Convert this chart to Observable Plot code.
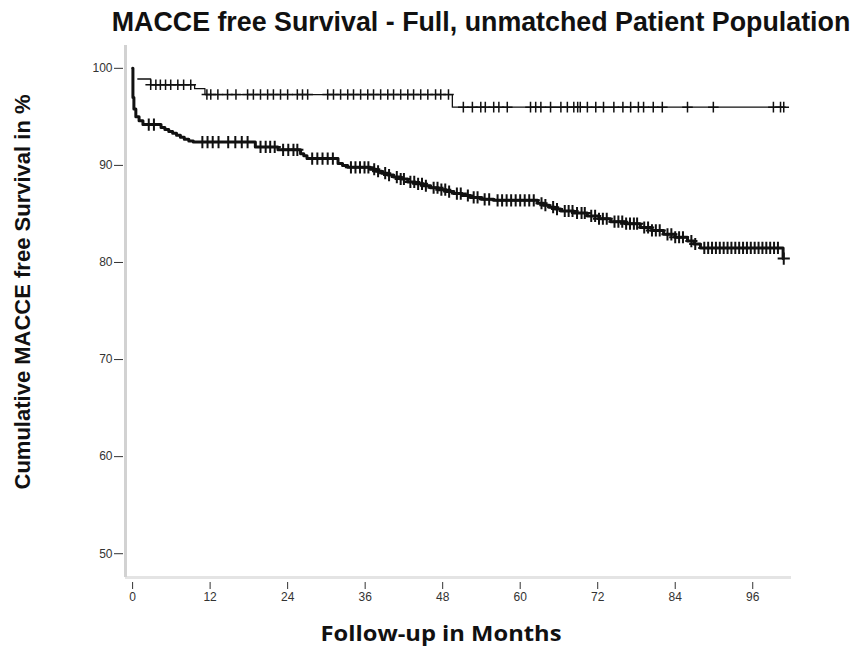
<!DOCTYPE html>
<html><head><meta charset="utf-8">
<script src="https://cdn.jsdelivr.net/npm/d3@7"></script>
<script src="https://cdn.jsdelivr.net/npm/@observablehq/plot@0.6"></script>
<style>body{margin:0;background:#fff} #chart{width:857px;height:646px}</style>
</head><body><div id="chart"></div>
<script>
const titleText = "MACCE free Survival - Full, unmatched Patient Population";
const xLabelText = "Follow-up in Months";
const yLabelText = "Cumulative MACCE free Survival in %";
const xTicks = [0, 12, 24, 36, 48, 60, 72, 84, 96];
const yTicks = [50, 60, 70, 80, 90, 100];
const xDomain = [-1.1, 102];
const yDomain = [47.55, 102.35];

// Upper group (step function)
const upperTimes  = [0.8, 2.8, 9.6, 11.2, 49.5];
const upperValues = [98.9, 98.3, 97.9, 97.3, 96.0];
const upperEnd = 100.8;
const upperCensor = [2.8, 3.6, 4.3, 5.1, 5.9, 7.0, 7.9, 9.0,
  11.5, 12.1, 13.2, 14.7, 16.0, 17.8, 18.7, 19.8, 20.9, 21.8, 22.9, 24.0, 25.5, 26.3, 27.1,
  30.2, 31.1, 32.2, 33.3, 34.2, 35.3, 36.4, 37.3, 38.4, 39.5, 40.4, 41.5, 42.6, 43.5, 44.6,
  45.7, 46.9, 47.7, 48.9,
  51.2, 52.6, 53.9, 54.6, 55.9, 56.7, 58.0, 61.6, 62.4, 63.2, 64.7, 66.3, 67.3, 68.3, 68.9,
  69.3, 70.4, 71.7, 72.9, 74.5, 75.9, 77.1, 78.3, 79.1, 80.6, 82.0, 85.9, 89.9, 99.2, 100.3, 100.8];

// Lower group (step function)
const lowerTimes  = [0, 0.05, 0.2, 0.5, 1.0, 1.6, 4.4, 5.0, 5.6, 6.2, 6.8, 7.4, 8.0, 8.7, 9.4,
  19.0, 22.5, 26.0, 26.5, 27.0, 31.8, 32.5, 33.3,
  36.8, 37.7, 38.6, 39.5, 40.4, 41.5, 42.6, 43.8, 45.0, 46.1, 47.3, 48.5, 49.7, 51.0, 52.3, 54.0, 55.9,
  62.7, 63.6, 64.5, 65.4, 66.3, 68.3, 70.4, 72.2, 74.0, 76.3, 78.6, 80.4, 82.2, 84.0, 85.9, 86.9, 87.9, 100.7];
const lowerValues = [100, 97.0, 95.8, 95.0, 94.6, 94.2, 93.9, 93.7, 93.5, 93.3, 93.1, 92.9, 92.7, 92.5, 92.4,
  91.9, 91.6, 91.2, 91.0, 90.7, 90.2, 90.0, 89.8,
  89.6, 89.4, 89.2, 89.0, 88.8, 88.6, 88.3, 88.1, 87.9, 87.7, 87.5, 87.3, 87.1, 86.9, 86.7, 86.5, 86.4,
  86.1, 85.9, 85.7, 85.5, 85.3, 85.1, 84.8, 84.5, 84.2, 84.0, 83.6, 83.3, 82.9, 82.6, 82.2, 81.9, 81.5, 80.4];
const lowerCensor = [2.5, 3.3, 10.8, 11.6, 12.4, 13.3, 14.8, 15.9, 16.9, 17.8,
  19.8, 20.6, 21.3, 22.0, 23.3, 24.1, 24.9, 25.5,
  27.8, 28.6, 29.4, 30.2, 31.0,
  33.8, 34.5, 35.2, 35.9, 36.5,
  37.4, 38.0, 39.1, 39.7, 40.9, 41.5, 42.0, 43.0, 43.6, 44.2, 44.8, 45.4, 46.6, 47.2, 47.8, 48.4, 49.0,
  50.2, 50.8, 51.9, 52.8, 53.4, 54.5, 55.2, 56.5, 57.2, 57.9, 58.6, 59.3, 60.0, 60.7, 61.4, 62.1,
  63.3, 63.9, 65.1, 65.7, 66.9, 67.5, 68.1, 68.8, 69.5, 70.0, 71.0, 71.6, 72.2, 72.8, 73.4,
  74.6, 75.2, 75.8, 76.4, 77.0, 77.6, 78.1, 79.2, 79.8, 80.4, 81.0, 81.6,
  82.8, 83.4, 84.0, 84.6, 85.2, 86.5, 87.1,
  88.5, 89.1, 89.7, 90.3, 90.9, 91.5, 92.1, 92.7, 93.3, 93.9, 94.5, 95.1, 95.7, 96.3, 96.9, 97.5,
  98.1, 98.7, 99.3, 99.9, 100.8];

function valueAt(times, values, t) {
  let v = values[0];
  for (let i = 0; i < times.length; i++) if (times[i] <= t) v = values[i];
  return v;
}
const upperLine = upperTimes.map((t, i) => ({t, v: upperValues[i]}))
  .concat([{t: upperEnd, v: upperValues[upperValues.length - 1]}]);
const lowerLine = lowerTimes.map((t, i) => ({t, v: lowerValues[i]}));
const upperMarks = upperCensor.map(t => ({t, v: valueAt(upperTimes, upperValues, t)}));
const lowerMarks = lowerCensor.map(t => ({t, v: valueAt(lowerTimes, lowerValues, t)}));

const ink = "#111";
const svg = Plot.plot({
  width: 857, height: 646,
  marginLeft: 125, marginRight: 66, marginTop: 45, marginBottom: 69,
  style: {fontFamily: "'Liberation Sans', Arial, sans-serif", fontSize: "12px", color: "#333", background: "#fff"},
  x: {domain: xDomain},
  y: {domain: yDomain},
  marks: [
    Plot.ruleY([yDomain[0]], {stroke: "#e4e4e4", strokeWidth: 3}),
    Plot.ruleX([xDomain[0]], {stroke: "#d2d2d2", strokeWidth: 3}),
    Plot.axisY({ticks: yTicks, tickSize: 9, tickPadding: 2, dx: -2, label: null, stroke: "#333"}),
    Plot.axisX({ticks: xTicks, tickSize: 7, tickPadding: 3, dy: 5, label: null, stroke: "#333"}),
    Plot.line(upperLine, {x: "t", y: "v", curve: "step-after", stroke: ink, strokeWidth: 1.3}),
    Plot.line(lowerLine, {x: "t", y: "v", curve: "step-after", stroke: ink, strokeWidth: 3}),
    Plot.dot(upperMarks, {x: "t", y: "v", symbol: "plus", r: 3.5, stroke: ink, strokeWidth: 1.5}),
    Plot.dot(lowerMarks, {x: "t", y: "v", symbol: "plus", r: 4, stroke: ink, strokeWidth: 2})
  ]
});
const s = d3.select(svg);
s.append("text").attr("x", 481).attr("y", 31).attr("text-anchor", "middle")
  .attr("font-size", 26.8).attr("font-weight", "bold").attr("fill", "#111")
  .attr("font-family", "'Liberation Sans', Arial, sans-serif").text(titleText);
s.append("text").attr("x", 441).attr("y", 641).attr("text-anchor", "middle")
  .attr("font-size", 21).attr("font-weight", "bold").attr("fill", "#111")
  .attr("textLength", 241).attr("lengthAdjust", "spacingAndGlyphs")
  .attr("font-family", "'Open Sans', sans-serif").text(xLabelText);
s.append("text").attr("transform", "translate(30,292) rotate(-90)").attr("text-anchor", "middle")
  .attr("font-size", 22).attr("font-weight", "bold").attr("fill", "#111")
  .attr("textLength", 395).attr("lengthAdjust", "spacingAndGlyphs")
  .attr("font-family", "'Liberation Sans', Arial, sans-serif").text(yLabelText);
document.getElementById("chart").appendChild(svg);
</script></body></html>
